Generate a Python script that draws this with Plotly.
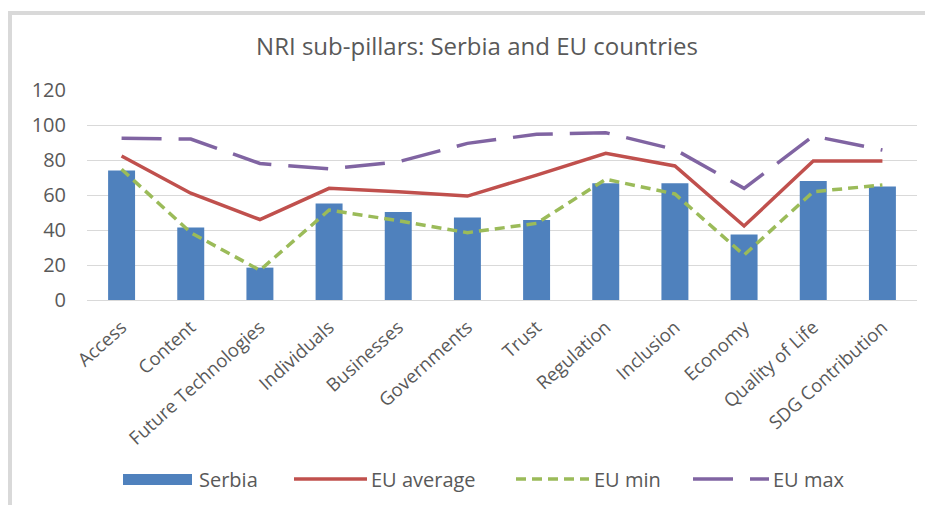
import plotly.graph_objects as go

categories = ["Access", "Content", "Future Technologies", "Individuals", "Businesses",
              "Governments", "Trust", "Regulation", "Inclusion", "Economy",
              "Quality of Life", "SDG Contribution"]
serbia = [74, 41.5, 18.5, 55.2, 50.3, 47.2, 45.7, 66.7, 66.7, 37.5, 68, 64.8]
eu_average = [82.3, 61, 46, 63.8, 61.9, 59.4, 71.4, 83.8, 76.6, 42.3, 79.4, 79.4]
eu_min = [74.7, 38.5, 17, 51.4, 45.3, 38.5, 43.8, 69, 60.6, 25.7, 61.9, 65.7]
eu_max = [92.4, 92, 78, 74.9, 79, 89.5, 94.7, 95.6, 86, 63.8, 93.7, 85.7]
y_ticks = [0, 20, 40, 60, 80, 100, 120]

FONT = "Open Sans, sans-serif"
GREY = "#595959"
OFF = 8                      # page body margin
W, H = 933 - OFF, 505 - OFF
# plot area in page pixels
PL, PR, PT, PB = 87, 917, 90, 300
L, R, T, B = PL - OFF, 933 - PR, PT - OFF, 505 - PB
PW, PH = PR - PL, PB - PT

def px(x):
    return (x - PL) / PW

def py(y):
    return (PB - y) / PH

fig = go.Figure()
fig.add_trace(go.Bar(x=categories, y=serbia, name="Serbia", marker_color="#4F81BD",
                     marker_line_width=0, showlegend=False))
fig.add_trace(go.Scatter(x=categories, y=eu_average, name="EU average", mode="lines",
                         line=dict(color="#C0504D", width=3.5), showlegend=False))
fig.add_trace(go.Scatter(x=categories, y=eu_min, name="EU min", mode="lines",
                         line=dict(color="#9BBB59", width=3.5, dash="10px,6px"), showlegend=False))
fig.add_trace(go.Scatter(x=categories, y=eu_max, name="EU max", mode="lines",
                         line=dict(color="#8064A2", width=3.5, dash="40px,17px"), showlegend=False))

shapes = [
    dict(type="line", xref="paper", yref="paper", x0=px(10), x1=px(10), y0=py(11), y1=py(510),
         line=dict(color="#D9D9D9", width=4)),
    dict(type="line", xref="paper", yref="paper", x0=px(8), x1=px(940), y0=py(13), y1=py(13),
         line=dict(color="#D9D9D9", width=4)),
    # legend symbols
    dict(type="rect", xref="paper", yref="paper", x0=px(123), x1=px(192), y0=py(474), y1=py(485),
         fillcolor="#4F81BD", line=dict(width=0)),
    dict(type="line", xref="paper", yref="paper", x0=px(294), x1=px(367), y0=py(479), y1=py(479),
         line=dict(color="#C0504D", width=3.5)),
    dict(type="line", xref="paper", yref="paper", x0=px(516), x1=px(589), y0=py(479), y1=py(479),
         line=dict(color="#9BBB59", width=3.5, dash="10px,6px")),
    dict(type="line", xref="paper", yref="paper", x0=px(693), x1=px(769), y0=py(479), y1=py(479),
         line=dict(color="#8064A2", width=3.5, dash="40px,17px")),
]

annotations = []
for name, xpos in [("Serbia", 197), ("EU average", 369), ("EU min", 592), ("EU max", 771)]:
    annotations.append(dict(text=name, xref="paper", yref="paper", x=px(xpos), y=py(479),
                            xanchor="left", yanchor="middle", showarrow=False,
                            font=dict(family=FONT, size=20, color=GREY)))

fig.update_layout(
    width=W, height=H,
    margin=dict(l=L, r=R, t=T, b=B),
    paper_bgcolor="white", plot_bgcolor="white",
    title=dict(text="NRI sub-pillars: Serbia and EU countries", x=(477 - OFF) / W, xanchor="center",
               xref="container", y=1 - (47 - OFF) / H, yanchor="middle",
               font=dict(family=FONT, size=24, color=GREY)),
    bargap=0.61,
    xaxis=dict(tickangle=-42, tickfont=dict(family=FONT, size=18.5, color=GREY),
               showgrid=False, showline=False, ticks="", ticklabelstandoff=12),
    yaxis=dict(range=[0, 120], tickvals=y_ticks, showgrid=True, gridcolor="#D9D9D9", gridwidth=1,
               zeroline=True, zerolinecolor="#D9D9D9", zerolinewidth=1,
               tickfont=dict(family=FONT, size=20, color=GREY), ticklabelstandoff=20,
               showline=False, ticks=""),
    shapes=shapes, annotations=annotations,
    showlegend=False,
)

fig.write_html("out.html")
